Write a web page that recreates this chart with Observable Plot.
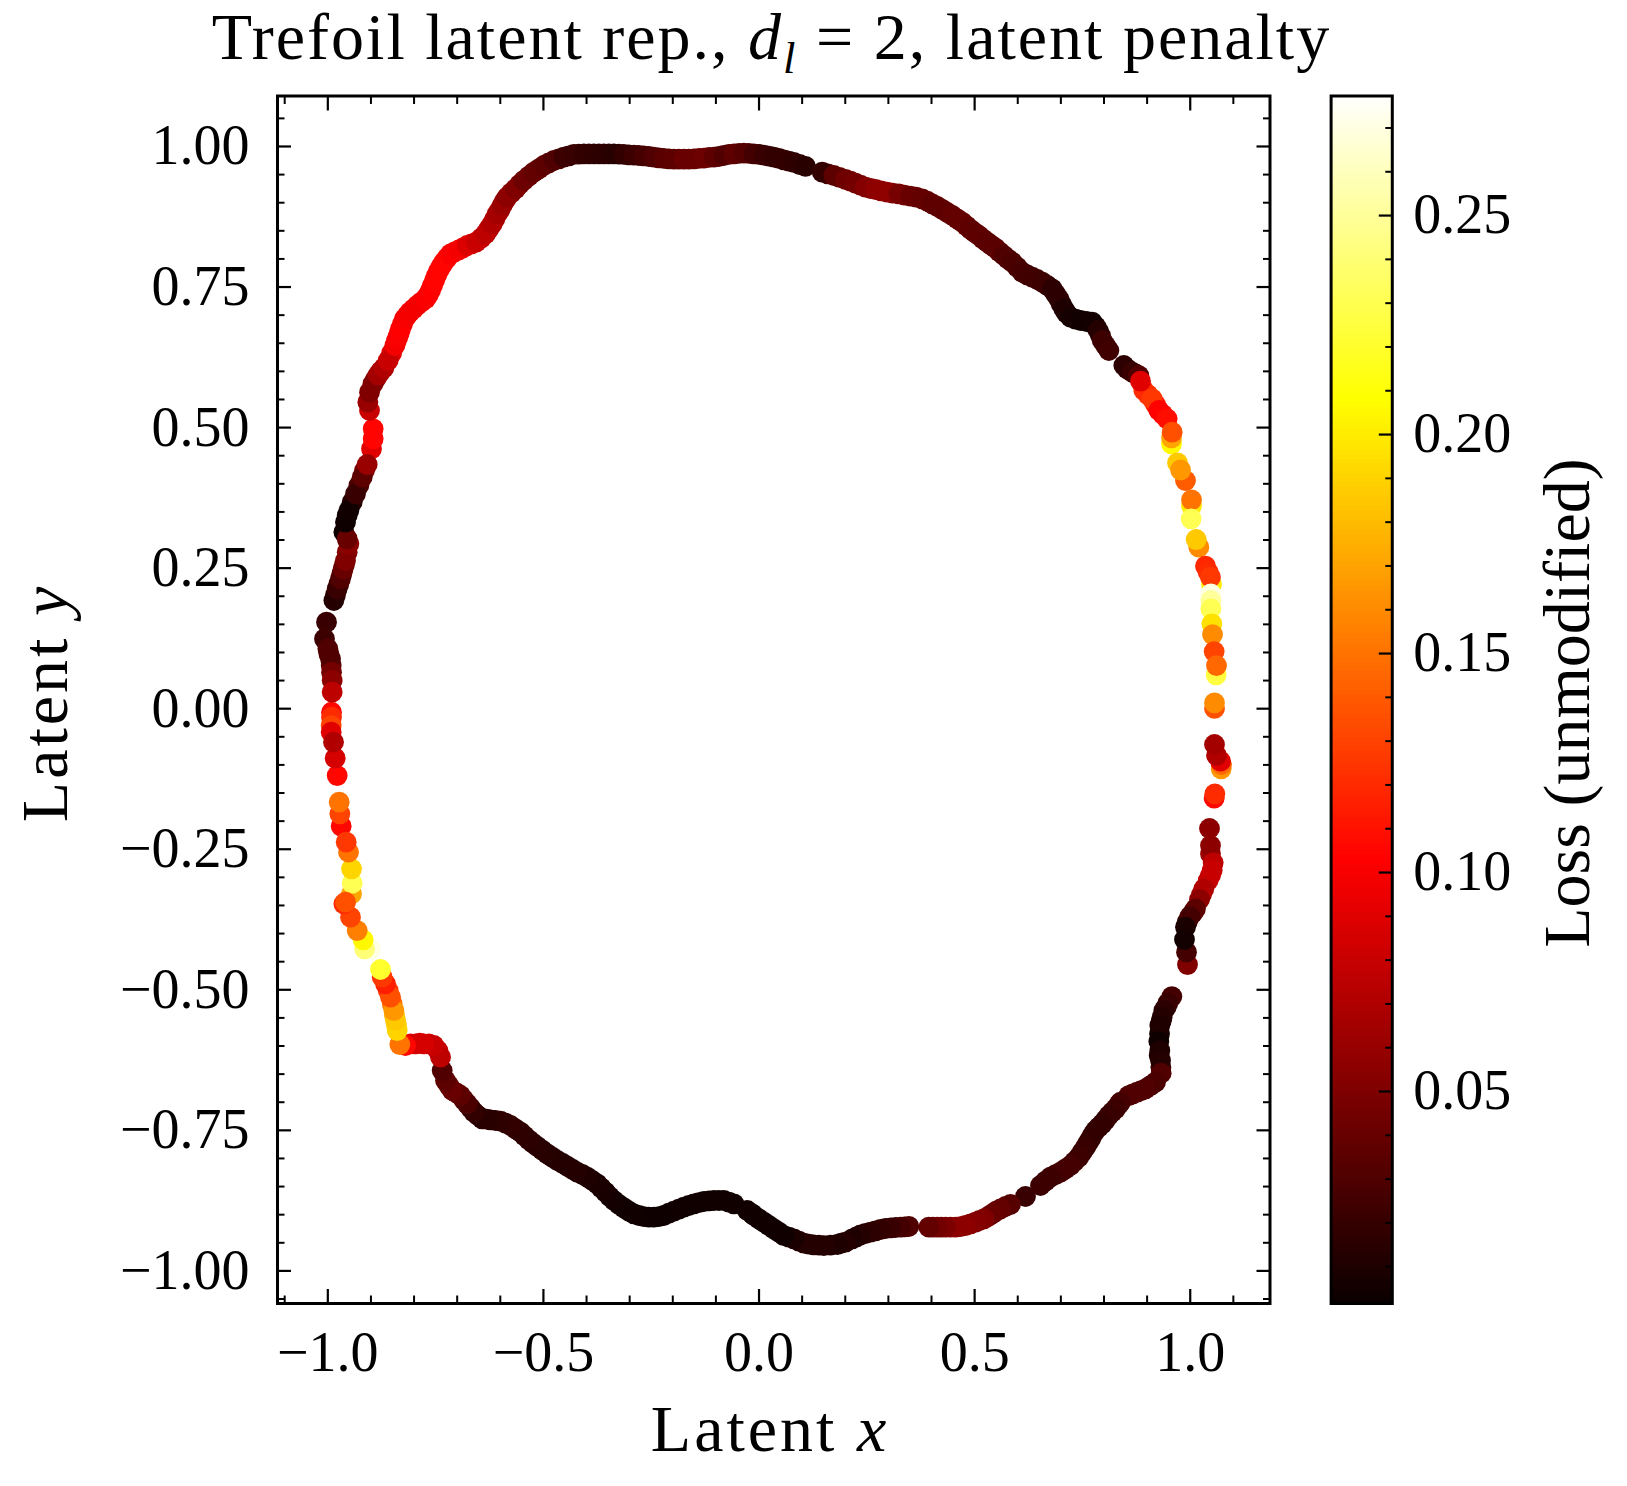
<!DOCTYPE html>
<html>
<head>
<meta charset="utf-8">
<script src="https://cdn.jsdelivr.net/npm/d3@7"></script>
<script src="https://cdn.jsdelivr.net/npm/@observablehq/plot@0.6"></script>
<style>
  body { margin: 0; background: #fff; }
  #figure { position: relative; width: 1627px; height: 1486px; font-family: "Liberation Serif", serif; color: #000; }
  #figure svg { position: absolute; top: 0; background: #fff; }
  .txt { position: absolute; white-space: nowrap; line-height: 1; font-size: 66px; }
  .txt i { font-style: italic; }
  .txt sub { font-size: 0.68em; line-height: 0; font-style: italic; }
</style>
</head>
<body>
<div id="figure"></div>
<script>
// values, going round the curve
const latentX = [
  -.9690,-.9721,-.9736,-.9783,-.9829,-.9914,-.9914,-.9922,-.9922,-.9868,
  -1.0030,-1.0077,-.9999,-.9937,-.9914,-.9899,-.9899,-.9860,-.9783,-.9706,
  -.9644,-.9590,-.9512,-.9628,-.9551,-.9590,-.9512,-.9358,-.9203,-.8987,
  -.8948,-.8948,-.9087,-.9033,-.9072,-.9033,-.8955,-.8832,-.8700,-.8600,
  -.8445,-.8376,-.8314,-.8221,-.8097,-.7927,-.7734,-.7618,-.7525,-.7425,
  -.7309,-.7154,-.6961,-.6768,-.6559,-.6343,-.6188,-.6072,-.5956,-.5840,
  -.5647,-.5454,-.5222,-.4990,-.4758,-.4526,-.4294,-.4062,-.3830,-.3598,
  -.3366,-.3135,-.2902,-.2671,-.2439,-.2207,-.1975,-.1743,-.1511,-.1279,
  -.1047,-.0816,-.0584,-.0352,-.0120,.0112,.0344,.0576,.0808,.1078,
  .1465,.1735,.2006,.2238,.2470,.2702,.2972,.3243,.3513,.3784,
  .4016,.4248,.4479,.4711,.4905,.5098,.5291,.5484,.5678,.5871,
  .6103,.6335,.6567,.6798,.6953,.7069,.7224,.7456,.7726,.7865,
  .7958,.8113,.8460,.8654,.8808,.8924,.9118,.8847,.9272,.9465,
  .9566,.9566,.9581,.9705,.9890,.9775,1.0030,1.0030,1.0022,1.0200,
  1.0138,1.0354,1.0416,1.0493,1.0470,1.0478,1.0478,1.0478,1.0501,1.0517,
  1.0555,1.0602,1.0609,1.0563,1.0563,1.0718,1.0725,1.0702,1.0609,1.0563,
  1.0555,1.0571,1.0447,1.0470,1.0416,1.0316,1.0215,1.0532,1.0509,1.0122,
  .9991,.9937,.9914,.9890,.9867,.9574,.9481,.9388,.9349,.9295,
  .9272,.9295,.9311,.9326,.9195,.8963,.8770,.8576,.8383,.8267,
  .8113,.7958,.7804,.7688,.7572,.7417,.7224,.6992,.6760,.6528,
  .6180,.5832,.5601,.5407,.5214,.5021,.4789,.4557,.4325,.4132,
  .3939,.3475,.3282,.3050,.2818,.2586,.2354,.2161,.2006,.1813,
  .1504,.1272,.1040,.0808,.0576,.0344,.0112,-.0120,-.0274,-.0583,
  -.0815,-.1047,-.1279,-.1511,-.1743,-.1975,-.2207,-.2439,-.2671,-.2902,
  -.3134,-.3366,-.3560,-.3753,-.3985,-.4217,-.4448,-.4680,-.4912,-.5144,
  -.5337,-.5531,-.5763,-.5994,-.6226,-.6420,-.6613,-.6767,-.6922,-.7115,
  -.7271,-.7348,-.7386,-.7541,-.7773,-.7966,-.8198,-.8330,-.8391,-.8430,
  -.8469,-.8546,-.8662,-.8739,-.8778,-.9010,-.9149,-.9180,-.9319,-.9474,
  -.9450,-.9435,-.9450,-.9520,-.9574,-.9628,-.9589
]
const latentY = [
  -.2089,-.1870,-.1662,-.1189,-.0881,-.0063,-.0151,-.0300,-.0418,-.0596,
  .1539,.1242,.1064,.0886,.0649,.0501,.0293,.1924,.2132,.2310,
  .2487,.2636,.2932,.3140,.3021,.3318,.3525,.3822,.4118,.4622,
  .4800,.4978,.4343,.5304,.5452,.5630,.5778,.5938,.6063,.6193,
  .6460,.6608,.6757,.6935,.7053,.7172,.7290,.7439,.7617,.7794,
  .7943,.8091,.8162,.8239,.8298,.8447,.8625,.8803,.8951,.9099,
  .9247,.9396,.9544,.9662,.9751,.9811,.9858,.9870,.9870,.9870,
  .9870,.9858,.9846,.9834,.9811,.9787,.9775,.9775,.9781,.9793,
  .9811,.9840,.9870,.9882,.9870,.9846,.9811,.9763,.9716,.9645,
  .9544,.9484,.9413,.9348,.9277,.9235,.9188,.9158,.9117,.9069,
  .8980,.8880,.8773,.8654,.8524,.8417,.8298,.8192,.8061,.7943,
  .7765,.7676,.7587,.7468,.7290,.7112,.6964,.6905,.6875,.6727,
  .6549,.6371,.6104,.5986,.5926,.5660,.5511,.5826,.5304,.5156,
  .4711,.4818,.4918,.4373,.4058,.4248,.3614,.3715,.3377,.2873,
  .3009,.2534,.2428,.2208,.2339,.2042,.1924,.1775,.1509,.1319,
  .1016,.0601,.0767,.0004,.0103,-.1070,-.0993,-.0933,-.0832,-.0637,
  -.1591,-.1514,-.2131,-.2434,-.3056,-.3204,-.3394,-.2742,-.2878,-.3560,
  -.3697,-.4551,-.4331,-.3886,-.4106,-.5120,-.5238,-.5369,-.5488,-.5636,
  -.5920,-.6081,-.6258,-.6484,-.6644,-.6762,-.6822,-.6881,-.7000,-.7117,
  -.7236,-.7384,-.7503,-.7651,-.7799,-.7977,-.8125,-.8244,-.8333,-.8481,
  -.8677,-.8819,-.8896,-.8985,-.9074,-.9133,-.9193,-.9222,-.9222,-.9222,
  -.9222,-.9210,-.9222,-.9234,-.9264,-.9311,-.9359,-.9430,-.9489,-.9531,
  -.9549,-.9537,-.9507,-.9430,-.9371,-.9252,-.9133,-.9015,-.8926,-.8807,
  -.8748,-.8748,-.8766,-.8807,-.8867,-.8938,-.9015,-.9045,-.9033,-.8985,
  -.8878,-.8748,-.8600,-.8452,-.8333,-.8244,-.8137,-.8036,-.7918,-.7787,
  -.7669,-.7532,-.7414,-.7337,-.7313,-.7295,-.7177,-.7028,-.6880,-.6791,
  -.6614,-.6436,-.6199,-.5991,-.5962,-.5962,-.5991,-.5974,-.5725,-.5547,
  -.5369,-.5131,-.4894,-.4776,-.4639,-.4272,-.4272,-.4112,-.3946,-.3708,
  -.3293,-.3103,-.2848,-.2552,-.2374,-.3471,-.3441
]
const lossValues = [
  .105,.13,.15,.105,.085,.105,.12,.13,.09,.07,
  .02,.022,.03,.03,.045,.055,.075,.012,.02,.03,
  .04,.05,.055,.003,.04,.003,.004,.02,.035,.09,
  .104,.104,.06,.08,.06,.05,.05,.065,.07,.08,
  .098,.1,.102,.1,.098,.098,.1,.102,.104,.104,
  .104,.1,.098,.088,.08,.075,.07,.065,.06,.055,
  .05,.042,.038,.035,.03,.022,.02,.018,.016,.015,
  .013,.018,.022,.026,.03,.034,.036,.04,.04,.042,
  .036,.03,.036,.032,.025,.02,.018,.018,.016,.014,
  .018,.035,.043,.045,.052,.056,.056,.046,.04,.038,
  .036,.036,.038,.038,.036,.036,.034,.034,.03,.028,
  .025,.024,.022,.015,.015,.01,.006,.004,.005,.012,
  .022,.024,.015,.02,.03,.12,.125,.09,.103,.108,
  .205,.17,.135,.185,.14,.165,.2,.15,.23,.16,
  .185,.118,.12,.2,.125,.27,.25,.23,.195,.16,
  .13,.225,.145,.135,.16,.165,.145,.09,.07,.065,
  .105,.12,.055,.055,.078,.07,.055,.075,.08,.035,
  .025,.05,.025,.008,.005,.025,.02,.015,.012,.01,
  .003,.01,.012,.03,.028,.03,.03,.03,.025,.022,
  .02,.018,.018,.018,.02,.022,.025,.025,.022,.022,
  .02,.033,.038,.04,.05,.052,.055,.055,.048,.044,
  .038,.03,.025,.02,.018,.015,.012,.01,.012,.01,
  .012,.012,.012,.008,.004,.004,.004,.004,.004,.004,
  .004,.004,.004,.004,.004,.004,.003,.003,.003,.004,
  .004,.005,.007,.008,.01,.012,.012,.012,.013,.014,
  .015,.016,.018,.016,.014,.014,.018,.028,.035,.04,
  .035,.03,.075,.08,.085,.085,.105,.15,.19,.185,
  .165,.135,.115,.125,.22,.27,.24,.205,.155,.13,
  .17,.23,.19,.15,.125,.12,.135
]

// more points read between the ones above, these sit underneath
const denseX = [
  -.8893,-.8770,-.8522,-.8414,-.8345,-.8267,-.8159,-.8012,-.7834,-.7672,
  -.7572,-.7479,-.7371,-.7231,-.7061,-.6868,-.6667,-.6443,-.6265,-.6126,
  -.6010,-.5902,-.5747,-.5554,-.5338,-.5106,-.4874,-.4642,-.4410,-.4178,
  -.3946,-.3714,-.3482,-.3250,-.3019,-.2787,-.2555,-.2323,-.2091,-.1859,
  -.1627,-.1395,-.1163,-.0932,-.0700,-.0468,-.0236,-.0004,.0228,.0460,
  .0692,.0939,.1596,.1867,.2122,.2354,.2586,.2833,.3103,.3374,
  .3645,.3900,.4132,.4364,.4596,.4812,.4997,.5191,.5384,.5577,
  .5770,.5987,.6219,.6451,.6683,.6876,.7007,.7131,.7340,.7595,
  .7811,.7919,.8035,.8345,.8190,.8035,.7881,.7742,.7626,.7494,
  .7317,.7108,.6876,.6644,.5716,.5500,.5307,.5114,.4905,.4673,
  .4441,.4225,.4031,.3374,.3166,.2934,.2702,.2470,.2261,.1906,
  .1658,.1388,.1156,.0924,.0692,.0460,.0228,-.0004,-.0158,-.0699,
  -.0931,-.1163,-.1395,-.1627,-.1859,-.2091,-.2323,-.2555,-.2787,-.3018,
  -.3250,-.3467,-.3660,-.3869,-.4101,-.4333,-.4564,-.4796,-.5028,-.5245,
  -.5438,-.5647,-.5879,-.6110,-.6319,-.6520,-.6690,-.6845,-.7015,-.7193,
  -.7657,-.7866,-.8082,-.7448,-.8407,-.8453,-.8507,-.8600,-.9821,-.9744,
  -.9675,-.9613,-.9551,-.9551,-.9435,-.9280,-.9149,-.9976,-.9922,1.0470,
  1.0470,1.0262,1.0060,.9929,.9442,.9326,.9288,.9280,.9319,.9079,
  .8863,.8669,.8538,.8731,.9017,.9195,.9365
]
const denseY = [
  .5861,.6004,.6324,.6537,.6680,.6846,.6994,.7112,.7231,.7362,
  .7527,.7705,.7866,.8020,.8126,.8198,.8269,.8370,.8536,.8714,
  .8874,.9028,.9176,.9324,.9473,.9603,.9710,.9781,.9834,.9864,
  .9870,.9870,.9870,.9864,.9852,.9840,.9822,.9799,.9781,.9775,
  .9775,.9787,.9805,.9822,.9858,.9876,.9876,.9858,.9828,.9787,
  .9740,.9680,.9514,.9449,.9384,.9313,.9253,.9212,.9170,.9135,
  .9099,.9028,.8933,.8826,.8714,.8589,.8470,.8358,.8245,.8127,
  .8002,.7854,.7717,.7634,.7528,.7379,.7201,.7035,.6929,.6887,
  .6798,.6638,.6460,-.7040,-.7177,-.7313,-.7443,-.7574,-.7728,-.7888,
  -.8054,-.8185,-.8286,-.8404,-.8855,-.8938,-.9033,-.9104,-.9163,-.9211,
  -.9222,-.9222,-.9222,-.9216,-.9228,-.9246,-.9288,-.9335,-.9394,-.9507,
  -.9543,-.9543,-.9525,-.9471,-.9400,-.9311,-.9193,-.9074,-.8985,-.8778,
  -.8748,-.8754,-.8784,-.8837,-.8902,-.8973,-.9033,-.9045,-.9015,-.8938,
  -.8819,-.8677,-.8523,-.8392,-.8285,-.8191,-.8084,-.7977,-.7853,-.7728,
  -.7598,-.7473,-.7372,-.7325,-.7301,-.7236,-.7099,-.6957,-.6833,-.6703,
  -.5962,-.5950,-.5962,-.6080,-.5636,-.5458,-.5250,-.5013,.2025,.2221,
  .2398,.2564,.2784,.3436,.3673,.3970,.4237,.0975,.0768,-.2582,
  -.2967,-.3305,-.3631,-.3797,-.5310,-.5559,-.5784,-.6169,-.6377,-.6703,
  -.6792,-.6851,.6045,.5956,.5588,.5411,.5233
]
const denseLoss = [
  .058,.068,.09,.099,.1,.102,.098,.098,.1,.1,
  .103,.104,.104,.102,.1,.094,.084,.078,.072,.068,
  .062,.058,.052,.046,.04,.036,.032,.026,.02,.019,
  .017,.015,.014,.015,.02,.024,.028,.032,.035,.038,
  .04,.041,.04,.033,.033,.034,.028,.022,.018,.018,
  .017,.015,.025,.04,.044,.048,.054,.056,.05,.043,
  .039,.037,.036,.037,.038,.037,.036,.035,.034,.032,
  .029,.026,.024,.023,.018,.015,.012,.008,.005,.004,
  .008,.018,.023,.025,.021,.019,.018,.018,.019,.021,
  .024,.025,.024,.022,.036,.039,.046,.051,.054,.055,
  .052,.046,.041,.028,.022,.019,.016,.013,.011,.011,
  .011,.012,.012,.01,.006,.004,.004,.004,.004,.004,
  .004,.004,.004,.004,.004,.004,.003,.003,.003,.004,
  .004,.006,.008,.009,.011,.012,.012,.013,.014,.015,
  .016,.017,.017,.015,.014,.016,.023,.032,.038,.037,
  .083,.085,.09,.078,.188,.175,.15,.125,.016,.025,
  .035,.045,.052,.003,.012,.028,.048,.03,.038,.06,
  .078,.062,.03,.015,.018,.011,.005,.011,.02,.029,
  .03,.03,.018,.025,.122,.11,.105
]

const xMajor = [-1, -0.5, 0, 0.5, 1]
const xMinor = [-1.1, -0.9, -0.8, -0.7, -0.6, -0.4, -0.3, -0.2, -0.1, 0.1, 0.2, 0.3, 0.4, 0.6, 0.7, 0.8, 0.9, 1.1]
const yMajor = [-1, -0.75, -0.5, -0.25, 0, 0.25, 0.5, 0.75, 1]
const yMinor = [-1.05, -0.95, -0.9, -0.85, -0.8, -0.7, -0.65, -0.6, -0.55, -0.45, -0.4, -0.35, -0.3, -0.2, -0.15, -0.1, -0.05,
  0.05, 0.1, 0.15, 0.2, 0.3, 0.35, 0.4, 0.45, 0.55, 0.6, 0.65, 0.7, 0.8, 0.85, 0.9, 0.95, 1.05]
const lossMajor = [0.05, 0.1, 0.15, 0.2, 0.25]
const lossMinor = [0.01, 0.02, 0.03, 0.04, 0.06, 0.07, 0.08, 0.09, 0.11, 0.12, 0.13, 0.14, 0.16, 0.17, 0.18, 0.19, 0.21, 0.22, 0.23, 0.24, 0.26, 0.27]

// colormap "hot"
const lossMin = 0.0016
const lossMax = 0.2773
const hotStops = [lossMin, 0.1022, 0.2073, lossMax]
const hotColors = ["#0b0000", "#ff0000", "#ffff00", "#ffffff"]
const colorOpts = { type: "linear", domain: hotStops, range: hotColors }

const densePoints = denseX.map((x, i) => ({ x, y: denseY[i], loss: denseLoss[i] }))
const points = latentX.map((x, i) => ({ x, y: latentY[i], loss: lossValues[i] }))

const tickLabelSize = 56
// inward ticks with no text
const ticks = (axis, anchor, values, size, strokeWidth) =>
  axis({ anchor, ticks: values, tickSize: -size, tickFormat: () => "", strokeWidth, label: null })

const chart = Plot.plot({
  width: 1320,
  height: 1486,
  marginLeft: 277,
  marginRight: 50.5,
  marginTop: 95.5,
  marginBottom: 183,
  x: { domain: [-1.1167, 1.185], label: null },
  y: { domain: [-1.058, 1.0898], label: null },
  color: colorOpts,
  style: { fontFamily: "Liberation Serif", color: "#000", background: "#fff" },
  marks: [
    Plot.dot(densePoints, { x: "x", y: "y", r: 10.4, fill: "loss" }),
    Plot.dot(points, { x: "x", y: "y", r: 10.4, fill: "loss" }),
    ticks(Plot.axisX, "bottom", xMajor, 14, 2.2),
    ticks(Plot.axisX, "bottom", xMinor, 7.5, 2),
    ticks(Plot.axisX, "top", xMajor, 14, 2.2),
    ticks(Plot.axisX, "top", xMinor, 7.5, 2),
    ticks(Plot.axisY, "left", yMajor, 14, 2.2),
    ticks(Plot.axisY, "left", yMinor, 7.5, 2),
    ticks(Plot.axisY, "right", yMajor, 14, 2.2),
    ticks(Plot.axisY, "right", yMinor, 7.5, 2),
    Plot.axisX({ anchor: "bottom", ticks: xMajor, tickSize: 0, tickPadding: 28, fontSize: tickLabelSize, tickFormat: d3.format(".1f"), label: null }),
    Plot.axisY({ anchor: "left", ticks: yMajor, tickSize: 0, tickPadding: 28, fontSize: tickLabelSize, tickFormat: d3.format(".2f"), label: null }),
    Plot.frame({ stroke: "#000", strokeWidth: 3 })
  ]
})

// colorbar
const levelStep = (lossMax - lossMin) / 256
const levels = d3.range(256).map(i => lossMin + i * levelStep)

const colorbar = Plot.plot({
  width: 307,
  height: 1486,
  marginLeft: 10.6,
  marginRight: 235.2,
  marginTop: 95.5,
  marginBottom: 183,
  x: { domain: [0, 1], axis: null },
  y: { domain: [lossMin, lossMax], label: null },
  color: colorOpts,
  style: { fontFamily: "Liberation Serif", color: "#000", background: "#fff" },
  marks: [
    Plot.rect(levels, { x1: 0, x2: 1, y1: d => d, y2: d => d + levelStep * 1.2, fill: d => d, shapeRendering: "crispEdges" }),
    ticks(Plot.axisY, "right", lossMajor, 14, 2.2),
    ticks(Plot.axisY, "right", lossMinor, 7.5, 2),
    Plot.axisY({ anchor: "right", ticks: lossMajor, tickSize: 0, tickPadding: 21, fontSize: tickLabelSize, tickFormat: d3.format(".2f"), label: null }),
    Plot.frame({ stroke: "#000", strokeWidth: 3 })
  ]
})

const fig = d3.select("#figure")
fig.append(() => chart).style("left", "0px")
fig.append(() => colorbar).style("left", "1320px")

// text with math italics, placed around the svgs
fig.append("div").attr("class", "txt")
  .style("left", "771.5px").style("top", "4px").style("transform", "translateX(-50%)")
  .style("letter-spacing", "2px")
  .html("Trefoil latent rep., <i>d</i><sub>l</sub> = 2, latent penalty")
fig.append("div").attr("class", "txt")
  .style("left", "770px").style("top", "1396px").style("transform", "translateX(-50%)").style("letter-spacing", "3px")
  .html("Latent <i>x</i>")
fig.append("div").attr("class", "txt")
  .style("left", "45px").style("top", "703px").style("transform", "translate(-50%,-50%) rotate(-90deg)").style("letter-spacing", "3px")
  .html("Latent <i>y</i>")
fig.append("div").attr("class", "txt")
  .style("left", "1567px").style("top", "703px").style("transform", "translate(-50%,-50%) rotate(-90deg)")
  .html("Loss (unmodified)")
</script>
</body>
</html>
